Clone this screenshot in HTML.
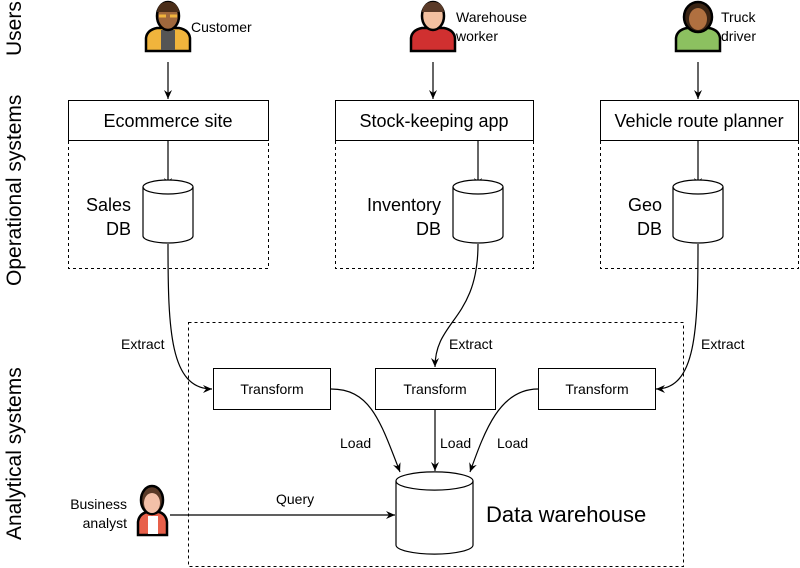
<!DOCTYPE html>
<html><head><meta charset="utf-8"><style>
html,body{margin:0;padding:0;background:#fff}
svg{display:block;font-family:"Liberation Sans",sans-serif}
</style></head><body>
<svg width="800" height="568" viewBox="0 0 800 568" xmlns="http://www.w3.org/2000/svg">
<defs>
<marker id="a" markerWidth="10" markerHeight="10" refX="9" refY="5" orient="auto" markerUnits="userSpaceOnUse">
<path d="M0,1 L9,5 L0,9 L3,5 Z" fill="#000"/></marker>
</defs>
<g font-size="21" fill="#000">
<text transform="translate(21,56) rotate(-90)">Users</text>
<text transform="translate(21,286) rotate(-90)">Operational systems</text>
<text transform="translate(21,540) rotate(-90)">Analytical systems</text>
</g>
<g>
<path d="M146,51 L146,38 Q147,30 157,28 L179,28 Q189,30 190,38 L190,51 Z" fill="#f0b43c" stroke="#000" stroke-width="2.5"/>
<rect x="161" y="30" width="14" height="20" fill="#555"/>
<ellipse cx="168" cy="16" rx="11" ry="14" fill="#a0683c" stroke="#000" stroke-width="2.5"/>
<path d="M157,12 Q158,2 168,2 Q178,2 179,12 Z" fill="#4a2d18"/>
<path d="M159,16 h7 M170,16 h7" stroke="#f0b43c" stroke-width="3"/>
</g>
<g>
<path d="M411,51 L411,38 Q412,30 422,28 L444,28 Q454,30 455,38 L455,51 Z" fill="#d03030" stroke="#000" stroke-width="2.5"/>
<ellipse cx="433" cy="16" rx="11" ry="14" fill="#f3c0a0" stroke="#000" stroke-width="2.5"/>
<path d="M422,12 Q423,2 433,2 Q443,2 444,12 Z" fill="#5a3a28"/>
</g>
<g>
<path d="M676,51 L676,38 Q677,30 687,28 L709,28 Q719,30 720,38 L720,51 Z" fill="#8cc060" stroke="#000" stroke-width="2.5"/>
<ellipse cx="698" cy="17" rx="14" ry="15" fill="#3a2414" stroke="#000" stroke-width="2.5"/>
<ellipse cx="698" cy="19" rx="9" ry="11" fill="#b07040"/>
</g>
<g>
<path d="M138,535 L138,522 Q139,514 147,512 L159,512 Q166,514 167,522 L167,535 Z" fill="#e8604a" stroke="#000" stroke-width="2.5"/>
<rect x="148" y="516" width="10" height="18" fill="#fff"/>
<ellipse cx="152" cy="500" rx="11" ry="14" fill="#5a3a28" stroke="#000" stroke-width="2.5"/>
<ellipse cx="152" cy="503" rx="8" ry="10" fill="#f3c0a8"/>
</g>
<g font-size="14">
<text x="191" y="32">Customer</text>
<text x="456" y="22">Warehouse</text><text x="456" y="41">worker</text>
<text x="721" y="22">Truck</text><text x="721" y="41">driver</text>
<text x="127" y="509" text-anchor="end">Business</text>
<text x="127" y="528" text-anchor="end">analyst</text>
</g>
<g stroke="#000" stroke-width="1.2" fill="none">
<line x1="168" y1="62" x2="168" y2="99" marker-end="url(#a)"/>
<line x1="433" y1="62" x2="433" y2="99" marker-end="url(#a)"/>
<line x1="698" y1="62" x2="698" y2="99" marker-end="url(#a)"/>
</g>
<g stroke="#000" stroke-width="1" fill="#fff">
<rect x="68.5" y="100.5" width="200" height="40"/>
<rect x="335.5" y="100.5" width="198" height="40"/>
<rect x="600.5" y="100.5" width="198" height="40"/>
</g>
<g font-size="18" text-anchor="middle">
<text x="168" y="127">Ecommerce site</text>
<text x="434" y="127">Stock-keeping app</text>
<text x="699" y="127">Vehicle route planner</text>
</g>
<g stroke="#000" stroke-dasharray="3,3" fill="none" stroke-width="1">
<path d="M68.5,141 V268.5 H268.5 V141"/>
<path d="M335.5,141 V268.5 H533.5 V141"/>
<path d="M600.5,141 V268.5 H798.5 V141"/>
<rect x="188.5" y="322.5" width="495" height="244"/>
</g>
<g stroke="#000" stroke-width="1.2" fill="none">
<line x1="168" y1="141" x2="168" y2="187" marker-end="url(#a)"/>
<line x1="478" y1="141" x2="478" y2="187" marker-end="url(#a)"/>
<line x1="698" y1="141" x2="698" y2="187" marker-end="url(#a)"/>
</g>
<g stroke="#000" stroke-width="1.2" fill="#fff">
<path d="M143,187 V236 A25,7 0 0 0 193,236 V187 A25,7 0 0 0 143,187 Z"/><path d="M143,187 A25,7 0 0 0 193,187" fill="none"/>
<path d="M453,187 V236 A25,7 0 0 0 503,236 V187 A25,7 0 0 0 453,187 Z"/><path d="M453,187 A25,7 0 0 0 503,187" fill="none"/>
<path d="M673,187 V236 A25,7 0 0 0 723,236 V187 A25,7 0 0 0 673,187 Z"/><path d="M673,187 A25,7 0 0 0 723,187" fill="none"/>
<path d="M396,481 V545 A38,9 0 0 0 473,545 V481 A38,9 0 0 0 396,481 Z"/><path d="M396,481 A38,9 0 0 0 473,481" fill="none"/>
</g>
<g font-size="18" text-anchor="end">
<text x="131" y="211">Sales</text><text x="131" y="235">DB</text>
<text x="441" y="211">Inventory</text><text x="441" y="235">DB</text>
<text x="662" y="211">Geo</text><text x="662" y="235">DB</text>
</g>
<text x="486" y="522" font-size="22">Data warehouse</text>
<g stroke="#000" stroke-width="1" fill="#fff">
<rect x="213.5" y="368.5" width="117" height="41"/>
<rect x="375.5" y="368.5" width="120" height="41"/>
<rect x="538.5" y="368.5" width="117" height="41"/>
</g>
<g font-size="14" text-anchor="middle">
<text x="272" y="394">Transform</text>
<text x="435" y="394">Transform</text>
<text x="597" y="394">Transform</text>
</g>
<g stroke="#000" stroke-width="1.2" fill="none">
<path d="M168,244 C168,330 170,389 212,389" marker-end="url(#a)"/>
<path d="M478,244 C478,320 435,320 435,367" marker-end="url(#a)"/>
<path d="M698,244 C698,330 696,389 656,389" marker-end="url(#a)"/>
<path d="M331,389 C370,389 380,420 400,472" marker-end="url(#a)"/>
<line x1="435" y1="410" x2="435" y2="471" marker-end="url(#a)"/>
<path d="M538,389 C500,389 485,430 470,472" marker-end="url(#a)"/>
<line x1="170" y1="515" x2="395" y2="515" marker-end="url(#a)"/>
</g>
<g font-size="14">
<text x="121" y="349">Extract</text>
<text x="449" y="349">Extract</text>
<text x="701" y="349">Extract</text>
<text x="340" y="448">Load</text>
<text x="440" y="448">Load</text>
<text x="497" y="448">Load</text>
<text x="276" y="504">Query</text>
</g>
</svg>
</body></html>
